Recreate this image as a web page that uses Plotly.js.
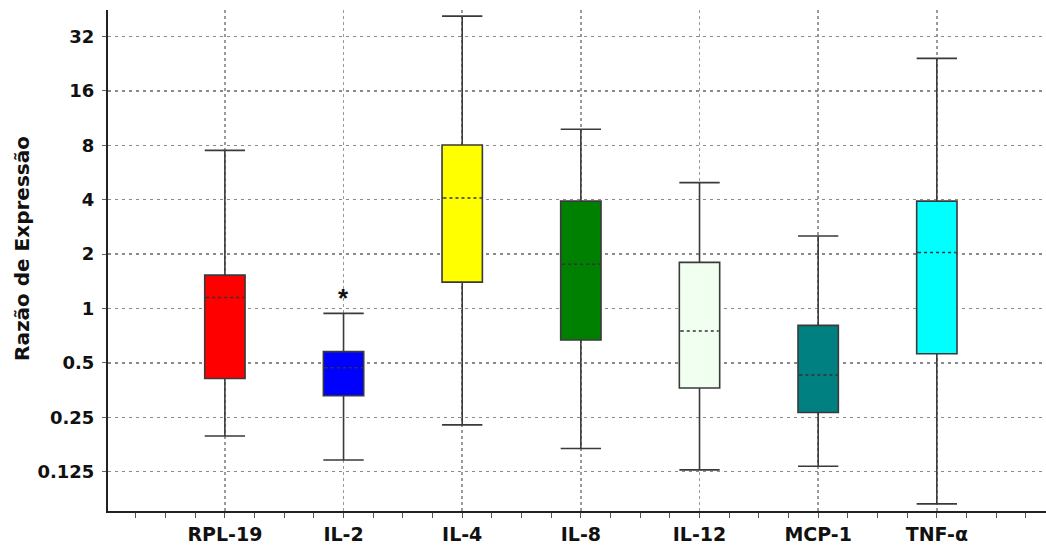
<!DOCTYPE html>
<html>
<head>
<meta charset="utf-8">
<script src="https://cdn.plot.ly/plotly-3.0.1.min.js"></script>
<style>html,body{margin:0;padding:0;background:#fff;}#chart{width:1046px;height:548px;}</style>
</head>
<body>
<div id="chart"></div>
<script>
const categories = ['RPL-19', 'IL-2', 'IL-4', 'IL-8', 'IL-12', 'MCP-1', 'TNF-\u03b1'];
const lowerWhisker = [0.197, 0.145, 0.227, 0.168, 0.128, 0.134, 0.083];
const q1Values     = [0.41, 0.329, 1.40, 0.669, 0.363, 0.266, 0.562];
const medianValues = [1.15, 0.47, 4.09, 1.76, 0.751, 0.429, 2.04];
const q3Values     = [1.53, 0.577, 8.03, 3.93, 1.80, 0.807, 3.93];
const upperWhisker = [7.5, 0.94, 41.5, 9.81, 4.97, 2.52, 24.2];
const boxColors = ['#ff0000', '#0000ff', '#ffff00', '#008000', '#f0fff0', '#008080', '#00ffff'];
const yTickVals = [0.125, 0.25, 0.5, 1, 2, 4, 8, 16, 32];
const yTickText = ['0.125', '0.25', '0.5', '1', '2', '4', '8', '16', '32'];
const significant = [false, true, false, false, false, false, false];
const yTitle = 'Raz\u00e3o de Express\u00e3o';

const FONT = 'DejaVu Sans, Verdana, sans-serif';
const BOXW = 0.34;
const traces = [];
categories.forEach((c, i) => {
  traces.push({
    type: 'box',
    x: [i],
    q1: [q1Values[i]], median: [medianValues[i]], q3: [q3Values[i]],
    lowerfence: [lowerWhisker[i]], upperfence: [upperWhisker[i]],
    width: BOXW, whiskerwidth: 1,
    fillcolor: boxColors[i],
    line: {color: '#3a3a3a', width: 1.6},
    hoverinfo: 'skip', showlegend: false
  });
});
// median overlays: cover the solid median, then draw a dashed one
const hw = BOXW / 2 - 0.012;
categories.forEach((c, i) => {
  traces.push({
    type: 'scatter', mode: 'lines',
    x: [i - hw, i + hw], y: [medianValues[i], medianValues[i]],
    line: {color: boxColors[i], width: 3},
    hoverinfo: 'skip', showlegend: false
  });
  traces.push({
    type: 'scatter', mode: 'lines',
    x: [i - hw, i + hw], y: [medianValues[i], medianValues[i]],
    line: {color: '#333333', width: 1.5, dash: '3px,3px'},
    hoverinfo: 'skip', showlegend: false
  });
});

const annotations = [];
significant.forEach((s, i) => {
  if (s) annotations.push({
    x: i, y: Math.log10(upperWhisker[i]), xref: 'x', yref: 'y',
    text: '*', showarrow: false, yanchor: 'bottom', yshift: -2,
    font: {family: 'Liberation Sans, Arial, sans-serif', size: 26, color: '#111', weight: 'bold'}
  });
});
annotations.push({
  xref: 'paper', yref: 'paper', x: -0.0917, y: 0.525,
  xanchor: 'center', yanchor: 'middle', textangle: -90,
  text: yTitle, showarrow: false,
  font: {family: FONT, size: 20, color: '#111', weight: 'bold'}
});

const layout = {
  width: 1046, height: 548,
  margin: {l: 108, r: 0, t: 10, b: 37},
  paper_bgcolor: '#fff', plot_bgcolor: '#fff',
  boxmode: 'overlay',
  showlegend: false,
  xaxis: {
    range: [-0.985, 6.92],
    tickmode: 'array', tickvals: categories.map((c, i) => i), ticktext: categories,
    tickfont: {family: FONT, size: 19, color: '#111', weight: 'bold'},
    showline: true, linecolor: '#222', linewidth: 2,
    ticks: 'outside', ticklen: 5, tickcolor: '#555', tickwidth: 1,
    showgrid: true, gridcolor: '#9a9a9a', gridwidth: 1.5, griddash: 'dot',
    zeroline: false,
    minor: {tickmode: 'linear', tick0: 0, dtick: 0.25, ticks: 'outside', ticklen: 5, tickcolor: '#555', showgrid: false},
    fixedrange: true
  },
  yaxis: {
    type: 'log',
    range: [Math.log10(2) * -3.722, Math.log10(2) * 5.487],
    tickmode: 'array', tickvals: yTickVals, ticktext: yTickText,
    tickfont: {family: FONT, size: 18, color: '#111', weight: 'bold'},
    ticks: 'outside', ticklen: 4, tickcolor: '#666', tickwidth: 1,
    ticklabelstandoff: 4,
    showline: true, linecolor: '#222', linewidth: 2,
    showgrid: true, gridcolor: '#8a8a8a', gridwidth: 1.5, griddash: '3px,4px',
    zeroline: false,
    fixedrange: true
  },
  annotations: annotations
};
Plotly.newPlot('chart', traces, layout, {displayModeBar: false, staticPlot: true});
</script>
</body>
</html>
